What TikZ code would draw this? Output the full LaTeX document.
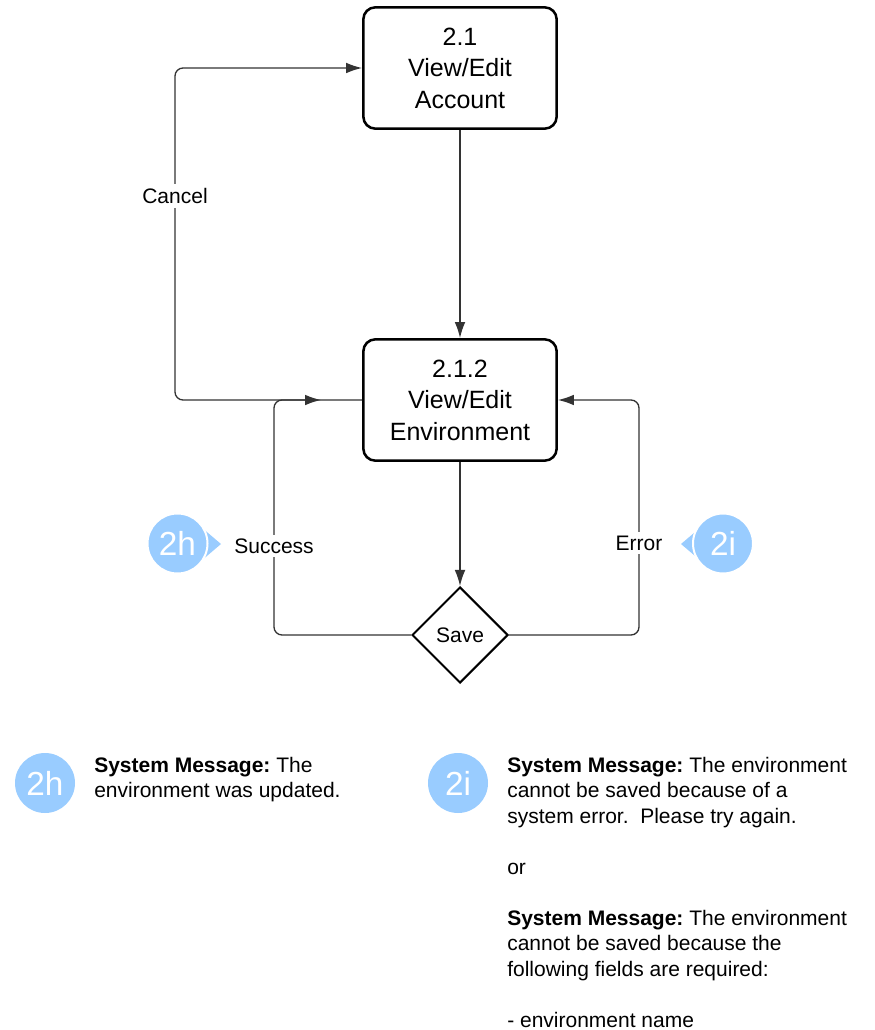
\documentclass[tikz,border=0pt]{standalone}
\usepackage{fontspec}
\setmainfont{Liberation Sans}
\usetikzlibrary{shapes.geometric,arrows.meta}
\definecolor{markblue}{RGB}{153,204,255}
\frenchspacing

\begin{document}
\begin{tikzpicture}[x=0.75pt,y=-0.75pt,
    stepbox/.style={draw, line width=1.9pt, rounded corners=9pt, minimum width=145pt, minimum height=91pt, align=center, inner sep=0pt, font=\fontsize{18.75}{23.6}\selectfont},
    choice/.style={diamond, draw, line width=1.5pt, minimum width=72pt, minimum height=72pt, inner sep=0pt, font=\fontsize{15.75}{19}\selectfont},
    flow/.style={draw=black!80, line width=1pt, rounded corners=6pt},
    flowtip/.style={-{Latex[length=12pt,width=8pt]}},
    lbl/.style={fill=white, inner xsep=2pt, inner ysep=3pt, font=\fontsize{15.75}{19}\selectfont},
    marker/.style={circle, fill=markblue, draw=white, line width=1.5pt, minimum size=45pt, inner sep=0pt, text=white, font=\fontsize{25}{25}\selectfont},
    note/.style={anchor=north west, align=left, inner sep=0pt, font=\fontsize{15.75}{19.1}\selectfont}]
    \useasboundingbox (0,0) rectangle (874,1030);

    \node[stepbox] (acct) at (460,68) {2.1\\View/Edit\\Account};
    \node[stepbox] (env) at (460,400) {2.1.2\\View/Edit\\Environment};
    \node[choice] (save) at (460,635) {Save};

    \coordinate (cancelx) at (175,0);
    \coordinate (succx) at (274,0);
    \coordinate (errx) at (639,0);
    \coordinate (join) at (321,400);

    \draw[flow,flowtip] (acct) -- (env);
    \draw[flow,flowtip] (env) -- (save);
    \draw[flow,flowtip] (env.west) -| (cancelx |- acct.west) -- (acct.west);
    \draw[flow,flowtip] (save.west) -| (succx |- env.west) -- (join);
    \draw[flow,flowtip] (save.east) -| (errx |- env.east) -- (env.east);

    \node[lbl] (cancellbl) at (175,196) {Cancel};
    \node[lbl] (succlbl) at (274,546) {Success};
    \node[lbl] (errlbl) at (639,543) {Error};

    \coordinate (pin2h) at (221,544);
    \fill[markblue] (pin2h) -- ++(-20,-17) -- ++(0,34) -- cycle;
    \node[marker] (m2h) at (177.5,543.5) {2h};
    \coordinate (pin2i) at (681,544);
    \fill[markblue] (pin2i) -- ++(20,-17) -- ++(0,34) -- cycle;
    \node[marker] (m2i) at (723,543.5) {2i};

    \node[marker, draw=none] (n2h) at (45,783) {2h};
    \node[marker, draw=none] (n2i) at (458,783) {2i};
    \node[note] (txt2h) at (94,757) {\textbf{System Message:} The\\environment was updated.};
    \node[note] (txt2i) at (507,757) {\textbf{System Message:} The environment\\cannot be saved because of a\\system error.~ Please try again.\\[19.1pt]or\\[19.1pt]\textbf{System Message:} The environment\\cannot be saved because the\\following fields are required:\\[19.1pt]- environment name};
\end{tikzpicture}
\end{document}
